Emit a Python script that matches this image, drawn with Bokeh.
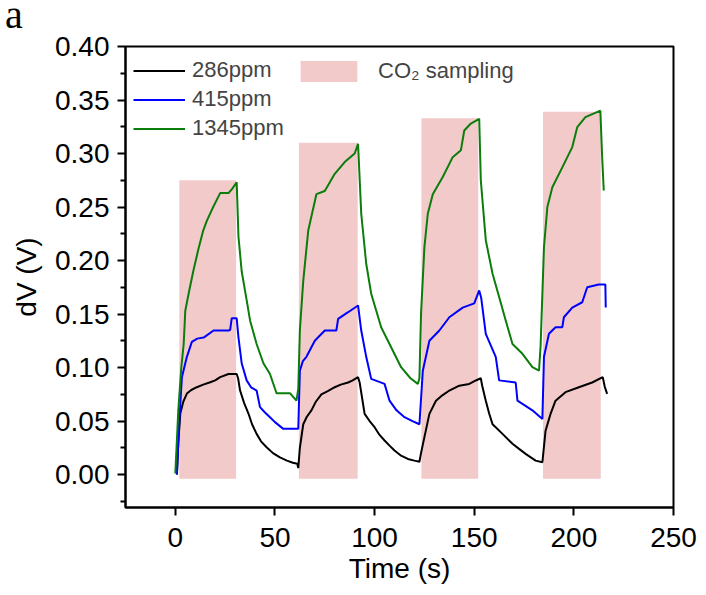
from bokeh.plotting import figure
from bokeh.layouts import column
from bokeh.models import (FixedTicker, PrintfTickFormatter, Legend, LegendItem,
                          Range1d, Div)
from bokeh.embed import file_html
from bokeh.resources import INLINE

# ---------------- data ----------------
time_286 = [0.8, 1.5, 2.5, 4, 5.8, 8, 10.8, 14, 17.5, 20, 22.5, 26.7, 29, 30.8,
            31.5, 32.5, 34.5, 36.7, 38.5, 40.8, 43, 45.8, 49, 52.5, 56, 59, 61.2,
            61.7, 62.5, 64.2, 66, 68.3, 70.5, 73.3, 76.5, 80, 83, 86.7, 89, 91.7,
            92.5, 95, 97.5, 100, 102.5, 105, 107.5, 110, 113, 116.7, 120, 122.5,
            123.3, 125, 127.5, 130.8, 134, 137.5, 142.5, 147.5, 150.8, 153.3,
            154, 155.8, 157.5, 159.2, 164.2, 169.2, 172.5, 175.8, 180.8, 184.2,
            185.8, 188.3, 190.8, 195.8, 202.5, 209.2, 214.5, 215.5, 216.7]
dv_286 = [0.000, 0.030, 0.057, 0.068, 0.0757, 0.079, 0.0816, 0.084, 0.0863, 0.088,
          0.091, 0.094, 0.094, 0.094,
          0.090, 0.0785, 0.067, 0.057, 0.047, 0.038, 0.031, 0.0255, 0.020, 0.016,
          0.013, 0.011, 0.010,
          0.006, 0.025, 0.047, 0.054, 0.060, 0.068, 0.075, 0.078, 0.0816, 0.084,
          0.086, 0.088, 0.091,
          0.086, 0.0567, 0.050, 0.0442, 0.037, 0.0318, 0.027, 0.0224, 0.018,
          0.0146, 0.013, 0.012,
          0.020, 0.035, 0.0567, 0.069, 0.074, 0.0785, 0.083, 0.0847, 0.0879, 0.090,
          0.083, 0.069, 0.057, 0.047, 0.038, 0.0287, 0.024, 0.0193, 0.013, 0.0115,
          0.041, 0.0567, 0.069, 0.077, 0.0816, 0.086, 0.091, 0.082, 0.0754]

time_415 = [0.8, 2, 3.3, 5.8, 8.3, 11, 14.2, 19.2, 26.7, 27.5, 28.3, 30.8, 31.7,
            33.3, 35.8, 38, 40.8, 42.5, 45, 47.5, 50, 54.2, 61.7, 62.5, 64, 65.8,
            70, 75, 80.8, 81.7, 86.7, 91.7, 93.3, 95.8, 98.3, 105, 107.5, 111,
            115, 119, 122.5, 124.2, 127.5, 132.5, 137.5, 144.2, 150, 152.5, 153.5,
            155.8, 160.8, 162.5, 170.8, 171.7, 179.2, 184.2, 185, 187.5, 190.8,
            194.2, 195, 199.2, 204.2, 206.7, 212.5, 215.8, 216]
dv_415 = [0.000, 0.050, 0.091, 0.110, 0.124, 0.127, 0.128, 0.1346, 0.1346, 0.135,
          0.146, 0.146, 0.128,
          0.104, 0.088, 0.0815, 0.0785, 0.063, 0.058, 0.0536, 0.049, 0.0427, 0.0427,
          0.097, 0.106, 0.110,
          0.125, 0.1346, 0.1346, 0.1455, 0.1517, 0.158, 0.1346, 0.110, 0.0894,
          0.0847, 0.069, 0.060,
          0.0536, 0.050, 0.047, 0.097, 0.125, 0.1346, 0.147, 0.156, 0.160, 0.172,
          0.165,
          0.1315, 0.110, 0.088, 0.086, 0.069, 0.060, 0.052, 0.110, 0.1315, 0.1377,
          0.1377, 0.147, 0.156, 0.161, 0.175, 0.1776, 0.1776, 0.156]

time_1345 = [0, 1.5, 3, 4.2, 5, 7, 9, 11.5, 14, 15.8, 19, 22.5, 26.7, 28.5, 30.8,
             31.7, 33.3, 35.8, 37.5, 40.8, 44.2, 47.5, 50.8, 57.5, 60.8, 61.7,
             62.5, 64.2, 66.7, 70.8, 75, 80, 85, 90, 91.7, 93.3, 95.8, 98.3, 103.3,
             108.3, 113.3, 118, 121.7, 122.5, 123.3, 125, 126.7, 129.2, 134.2,
             139.2, 143.3, 145, 148.3, 152.5, 153.3, 155.8, 159.2, 162.5, 165.8,
             169.2, 174.2, 179.2, 182.5, 183.3, 185, 186.7, 189.2, 194.2, 199.2,
             201.7, 205.8, 213.3, 214.2, 215]
dv_1345 = [0.001, 0.060, 0.100, 0.122, 0.153, 0.172, 0.190, 0.210, 0.228, 0.237,
           0.250, 0.263, 0.263, 0.267, 0.273,
           0.222, 0.190, 0.163, 0.144, 0.122, 0.104, 0.094, 0.076, 0.076, 0.069,
           0.080,
           0.1346, 0.181, 0.228, 0.262, 0.265, 0.281, 0.292, 0.300, 0.309, 0.2437,
           0.197, 0.169, 0.1377,
           0.119, 0.1003, 0.090, 0.0847, 0.090, 0.150, 0.2125, 0.2437, 0.262, 0.278,
           0.2966, 0.303, 0.3215, 0.328, 0.3324, 0.275, 0.219, 0.1876, 0.166, 0.144,
           0.122, 0.1128, 0.1003, 0.097, 0.120, 0.2125, 0.250, 0.2685, 0.287, 0.306,
           0.3246, 0.334, 0.340, 0.2966, 0.2654]

sampling_start = [2, 62, 123.5, 184.5]
sampling_end = [30.5, 91.5, 152, 213.5]
sampling_top = [0.275, 0.310, 0.333, 0.339]
sampling_bottom = [-0.004, -0.004, -0.004, -0.004]

x_ticks = [0, 50, 100, 150, 200, 250]
y_ticks = [0.00, 0.05, 0.10, 0.15, 0.20, 0.25, 0.30, 0.35, 0.40]
y_minor_ticks = [-0.025, 0.025, 0.075, 0.125, 0.175, 0.225, 0.275, 0.325, 0.375]

series_labels = ["286ppm", "415ppm", "1345ppm"]
series_colors = ["#000000", "#0000FF", "#0A7D0A"]
shade_label = "CO\u2082 sampling"
shade_color = "#F2CACA"
panel_letter = "a"

FONT = "Liberation Sans"

# ---------------- figure ----------------
p = figure(width=706, height=565, output_backend="svg", toolbar_location=None,
           x_range=Range1d(-25, 250), y_range=Range1d(-0.0308, 0.40),
           min_border_left=125, min_border_right=33, min_border_top=16,
           min_border_bottom=88, background_fill_color="white",
           border_fill_color="white")

shade = p.quad(left=sampling_start, right=sampling_end, bottom=sampling_bottom,
               top=sampling_top, fill_color=shade_color, line_color=None)

renderers = []
for t, v, c in zip([time_286, time_415, time_1345], [dv_286, dv_415, dv_1345],
                   series_colors):
    renderers.append(p.line(t, v, line_color=c, line_width=2))

p.xgrid.visible = False
p.ygrid.visible = False
p.outline_line_color = "black"
p.outline_line_width = 2
p.outline_line_alpha = 1

p.xaxis.ticker = FixedTicker(ticks=x_ticks)
p.yaxis.ticker = FixedTicker(ticks=y_ticks, minor_ticks=y_minor_ticks)
p.yaxis.formatter = PrintfTickFormatter(format="%.2f")
p.xaxis.minor_tick_line_color = None

for ax in (p.xaxis, p.yaxis):
    ax.axis_line_width = 2
    ax.axis_line_color = "black"
    ax.major_tick_line_width = 2
    ax.major_tick_line_color = "black"
    ax.minor_tick_line_width = 2
    ax.major_tick_in = 0
    ax.major_tick_out = 8
    ax.minor_tick_in = 0
    ax.minor_tick_out = 5
    ax.major_label_text_font = FONT
    ax.major_label_text_font_size = "28px"
    ax.major_label_text_color = "black"
    ax.axis_label_text_font = FONT
    ax.axis_label_text_font_size = "28px"
    ax.axis_label_text_font_style = "normal"
    ax.axis_label_text_color = "black"

p.xaxis.axis_label = "Time (s)"
p.yaxis.axis_label = "dV (V)"
p.xaxis.major_label_standoff = 12
p.xaxis.axis_label_standoff = 3
p.yaxis.major_label_standoff = 8
p.yaxis.axis_label_standoff = 10

legend_lines = Legend(
    items=[LegendItem(label=l, renderers=[r]) for l, r in zip(series_labels, renderers)],
    location=(8, 366), padding=0, margin=0, spacing=3, glyph_width=52,
    glyph_height=21, label_standoff=7, label_text_font=FONT,
    label_text_font_size="22px", background_fill_alpha=0, border_line_color=None)
legend_shade = Legend(
    items=[LegendItem(label=shade_label, renderers=[shade])],
    location=(168, 423), padding=0, margin=0, glyph_width=71, glyph_height=26,
    label_standoff=14, label_text_font=FONT, label_text_font_size="22px",
    background_fill_alpha=0, border_line_color=None)
p.add_layout(legend_lines)
p.add_layout(legend_shade)

tag = Div(text=('<div style="font-family:\'Liberation Serif\';font-size:40px;'
                'line-height:30px;height:30px;margin:0 0 0 5px;padding:0;'
                'color:black;">' + panel_letter + '</div>'),
          width=706, height=30, margin=0,
          styles={"font-family": "Liberation Serif", "font-size": "40px",
                  "line-height": "30px", "overflow": "visible"})

layout = column(tag, p, spacing=0)

open("out.html", "w").write(file_html(layout, INLINE))
